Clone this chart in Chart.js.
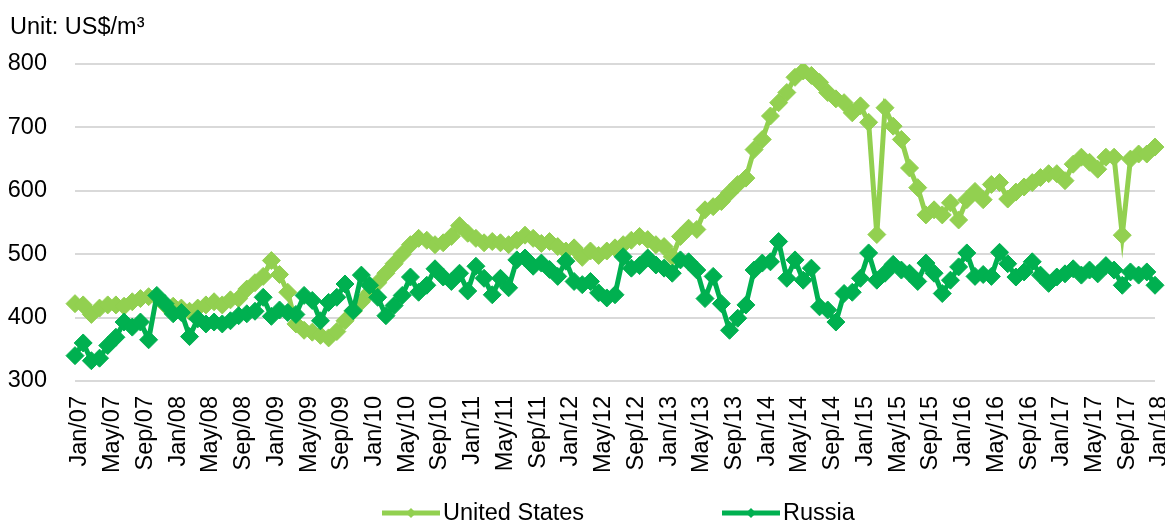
<!DOCTYPE html>
<html>
<head>
<meta charset="utf-8">
<script src="https://cdn.jsdelivr.net/npm/chart.js@4.4.0/dist/chart.umd.min.js"></script>
<style>
  html, body { margin: 0; padding: 0; background: #ffffff; }
  #wrap { width: 1165px; height: 523px; }
</style>
</head>
<body>
<div id="wrap"><canvas id="myChart" width="1165" height="523"></canvas></div>
<script>
// month names and the year span of the monthly series (Jan/07 .. Jan/18)
const MONTHS = ['Jan', 'Feb', 'Mar', 'Apr', 'May', 'Jun', 'Jul', 'Aug', 'Sep', 'Oct', 'Nov', 'Dec'];
const YEARS = ['07', '08', '09', '10', '11', '12', '13', '14', '15', '16', '17', '18'];
const LABEL_EVERY = 4;  // only every 4th month gets a tick label

// price, US$/m3, one value per month
const usPrices = [
  422, 420, 405, 415, 420, 420, 418, 425, 430, 433, 432, 420,  // 2007
  418, 415, 410, 415, 420, 425, 420, 428, 430, 445, 455, 465,  // 2008
  490, 468, 440, 390, 380, 377, 372, 368, 378, 395, 410, 425,  // 2009
  440, 455, 470, 485, 500, 515, 525, 522, 515, 518, 528, 545,  // 2010
  533, 525, 518, 520, 518, 515, 522, 530, 525, 517, 520, 512,  // 2011
  505, 510, 495, 505, 498, 505, 510, 515, 522, 528, 523, 515,  // 2012
  512, 496, 528, 541, 539, 570, 575, 583, 597, 610, 620, 665,  // 2013
  681, 718, 739, 755, 779, 789, 782, 771, 755, 745, 739, 723,  // 2014
  734, 708, 531, 731, 702, 681, 636, 605, 562, 570, 562, 581,  // 2015
  554, 586, 599, 586, 610, 613, 587, 598, 606, 613, 621, 627,  // 2016
  627, 616, 642, 653, 645, 634, 653, 653, 530, 650, 658, 658,  // 2017
  669                                                          // Jan 2018
];
const russiaPrices = [
  340, 360, 332, 336, 356, 369, 393, 385, 393, 365, 435, 422,
  406, 408, 370, 398, 390, 393, 390, 395, 403, 406, 410, 432,
  402, 412, 408, 405, 435, 427, 395, 424, 432, 453, 411, 467,
  451, 432, 403, 419, 435, 464, 440, 451, 477, 464, 457, 470,
  442, 481, 462, 436, 462, 447, 491, 494, 481, 486, 476, 465,
  489, 457, 452, 457, 439, 431, 436, 496, 478, 482, 494, 483,
  478, 470, 491, 488, 475, 430, 465, 422, 380, 399, 420, 475,
  486, 488, 520, 462, 491, 459, 478, 417, 412, 393, 438, 440,
  462, 502, 459, 470, 484, 475, 470, 457, 486, 470, 438, 459,
  480, 502, 465, 468, 465, 503, 485, 464, 472, 488, 467, 454,
  464, 469, 477, 467, 475, 469, 482, 475, 451, 472, 467, 472,
  451
];

const Y_MIN = 300;
const Y_MAX = 800;
const Y_STEP = 100;
const UNIT_LABEL = 'Unit: US$/m³';

const US_COLOR = '#92D050';
const RU_COLOR = '#00B050';
const GRID_COLOR = '#D9D9D9';
const FONT = '"Liberation Sans", Arial, sans-serif';
const FONT_SIZE = 23.5;

// build the category labels from month names + years
const labels = [];
YEARS.forEach(function (yy) {
  MONTHS.forEach(function (m) {
    if (labels.length < usPrices.length) labels.push(m + '/' + yy);
  });
});

const series = [
  { label: 'United States', data: usPrices, color: US_COLOR, legendX: 382, order: 1 },
  { label: 'Russia', data: russiaPrices, color: RU_COLOR, legendX: 722, order: 0 }
];

function diamond(ctx, x, y, r) {
  ctx.beginPath();
  ctx.moveTo(x - r, y);
  ctx.lineTo(x, y - r);
  ctx.lineTo(x + r, y);
  ctx.lineTo(x, y + r);
  ctx.closePath();
  ctx.fill();
}

// unit caption on top-left and the line+marker legend at the bottom
const captionAndLegend = {
  id: 'captionAndLegend',
  afterDraw(chart) {
    const ctx = chart.ctx;
    ctx.save();
    ctx.font = FONT_SIZE + 'px ' + FONT;
    ctx.fillStyle = '#000';
    ctx.textBaseline = 'alphabetic';
    ctx.textAlign = 'left';
    ctx.fillText(UNIT_LABEL, 10, 34);

    const y = 513;
    series.forEach(function (s) {
      ctx.strokeStyle = s.color;
      ctx.fillStyle = s.color;
      ctx.lineWidth = 5;
      ctx.beginPath();
      ctx.moveTo(s.legendX, y);
      ctx.lineTo(s.legendX + 58, y);
      ctx.stroke();
      diamond(ctx, s.legendX + 29, y, 5);
      ctx.fillStyle = '#000';
      ctx.textBaseline = 'middle';
      ctx.fillText(s.label, s.legendX + 61, y + 1);
    });
    ctx.restore();
  }
};

const ctx = document.getElementById('myChart').getContext('2d');
new Chart(ctx, {
  type: 'line',
  data: {
    labels: labels,
    datasets: series.map(function (s) {
      return {
        label: s.label,
        data: s.data,
        order: s.order,
        borderColor: s.color,
        backgroundColor: s.color,
        borderWidth: 5,
        pointStyle: 'rectRot',
        pointRadius: 9,
        pointBorderWidth: 1,
        pointBackgroundColor: s.color,
        pointBorderColor: s.color,
        tension: 0,
        fill: false
      };
    })
  },
  options: {
    responsive: false,
    animation: false,
    layout: { padding: { left: 0, top: 64, right: 7, bottom: 0 } },
    plugins: {
      legend: { display: false },
      tooltip: { enabled: false },
      title: { display: false }
    },
    scales: {
      x: {
        offset: false,
        grid: { display: false, drawTicks: false },
        border: { display: false },
        ticks: {
          autoSkip: false,
          minRotation: 90,
          maxRotation: 90,
          padding: 15,
          labelOffset: 5,
          color: '#000',
          font: { family: FONT, size: FONT_SIZE },
          callback: function (value, index) {
            return index % LABEL_EVERY === 0 ? labels[index] : '';
          }
        },
        afterFit: function (scale) {
          scale.height = 142;
          scale.paddingLeft = 0;
          scale.paddingRight = 0;
        }
      },
      y: {
        min: Y_MIN,
        max: Y_MAX,
        grid: { color: GRID_COLOR, lineWidth: 2, drawTicks: false },
        border: { display: false },
        ticks: {
          stepSize: Y_STEP,
          padding: 28,
          color: '#000',
          font: { family: FONT, size: FONT_SIZE }
        },
        afterFit: function (scale) {
          scale.width = 75;
        }
      }
    }
  },
  plugins: [captionAndLegend]
});
</script>
</body>
</html>
